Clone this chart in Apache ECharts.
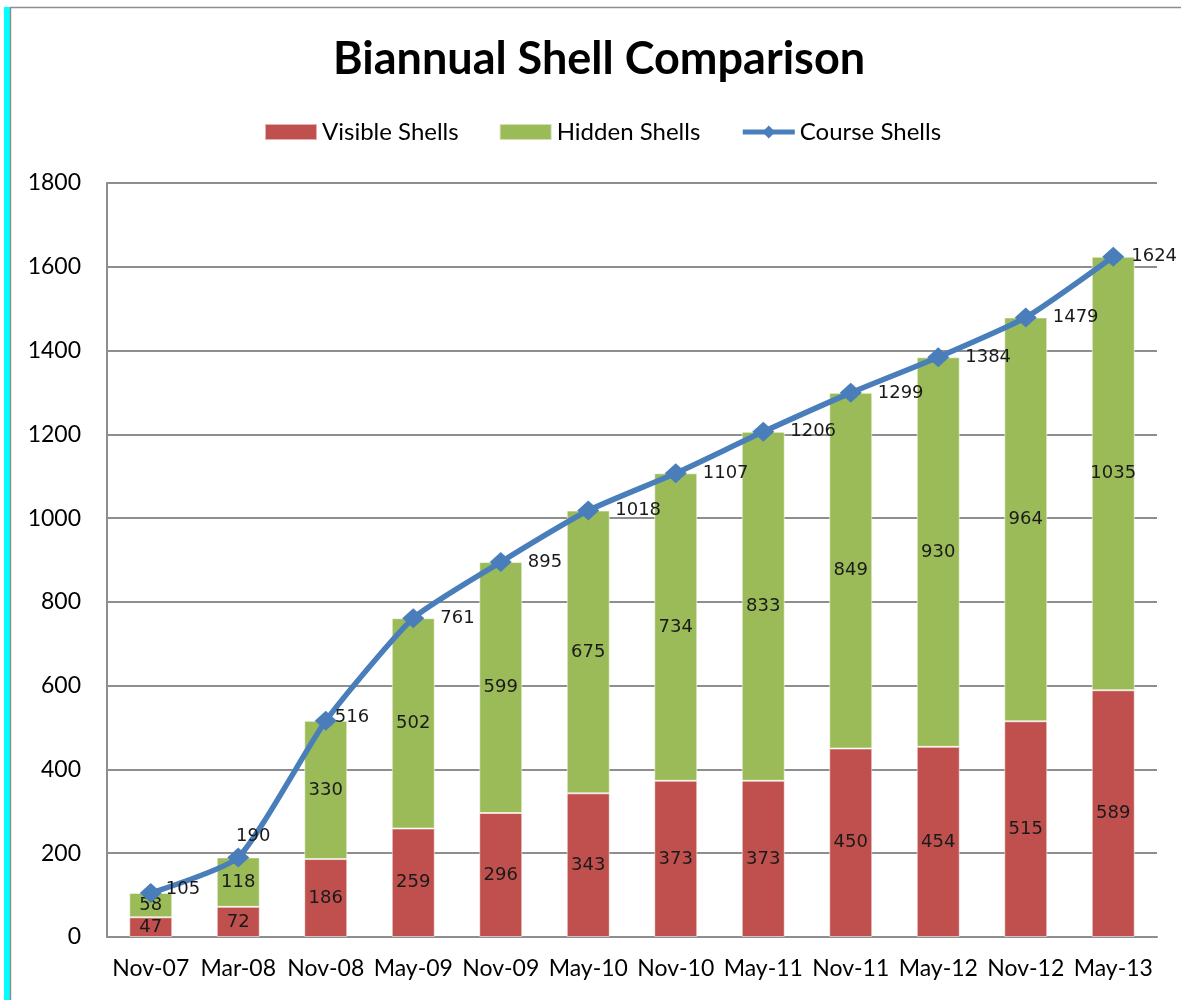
<!DOCTYPE html>
<html>
<head>
<meta charset="utf-8">
<script src="https://cdn.jsdelivr.net/npm/echarts@6/dist/echarts.min.js"></script>
<style>
html,body{margin:0;padding:0;background:#fff;}
#chart{width:1181px;height:1000px;}
</style>
</head>
<body>
<div id="chart"></div>
<script>
var categories = ['Nov-07','Mar-08','Nov-08','May-09','Nov-09','May-10','Nov-10','May-11','Nov-11','May-12','Nov-12','May-13'];
var visibleShells = [47,72,186,259,296,343,373,373,450,454,515,589];
var hiddenShells = [58,118,330,502,599,675,734,833,849,930,964,1035];
var courseShells = [105,190,516,761,895,1018,1107,1206,1299,1384,1479,1624];
var yTicks = {min:0, max:1800, interval:200};

// label placement tweaks for individual line points (by index)
var lineLabelTweaks = {
  0: {distance: 4, offset: [0, -4]},
  1: {position: 'top', distance: 2, offset: [15, 0]},
  2: {distance: -2, offset: [0, -4]},
  11: {distance: 7}
};

var labelFont = {fontFamily: 'DejaVu Sans', fontSize: 18, color: '#1a1a1a'};
var axisFont = 'Lato';
var gridColor = '#8e8e8e';

var chart = echarts.init(document.getElementById('chart'));

var lineData = courseShells.map(function (v, i) {
  var d = {value: v};
  if (lineLabelTweaks[i]) d.label = lineLabelTweaks[i];
  return d;
});

chart.setOption({
  animation: false,
  backgroundColor: '#ffffff',
  title: {
    text: 'Biannual Shell Comparison',
    left: 328,
    top: 32,
    padding: 5,
    textStyle: {fontFamily: axisFont, fontWeight: 'bold', fontSize: 45, color: '#000'}
  },
  legend: {
    top: 115,
    left: 259,
    itemWidth: 52,
    itemHeight: 16,
    itemGap: 40,
    textStyle: {fontFamily: axisFont, fontSize: 24, color: '#000'},
    data: [
      {name: 'Visible Shells', icon: 'rect'},
      {name: 'Hidden Shells', icon: 'rect'},
      {name: 'Course Shells', lineStyle: {width: 5}}
    ]
  },
  grid: {left: 107, right: 24, top: 183, bottom: 63},
  xAxis: {
    type: 'category',
    data: categories,
    axisLine: {show: true, lineStyle: {color: gridColor, width: 2}},
    axisTick: {show: false},
    axisLabel: {fontFamily: axisFont, fontSize: 23, color: '#000', margin: 20, interval: 0}
  },
  yAxis: {
    type: 'value',
    min: yTicks.min,
    max: yTicks.max,
    interval: yTicks.interval,
    axisLine: {show: true, lineStyle: {color: gridColor, width: 2}},
    axisTick: {show: false},
    splitLine: {show: true, lineStyle: {color: gridColor, width: 2}},
    axisLabel: {fontFamily: axisFont, fontSize: 23, color: '#000', margin: 26,
      formatter: function (v) { return String(v); }}
  },
  graphic: [
    {type: 'rect', shape: {x: 4, y: 7, width: 6, height: 993}, style: {fill: '#00ffff'}, silent: true},
    {type: 'line', shape: {x1: 10.5, y1: 7, x2: 10.5, y2: 1000}, style: {stroke: '#8e8e8e', lineWidth: 1.5}, silent: true},
    {type: 'line', shape: {x1: 10, y1: 7.5, x2: 1181, y2: 7.5}, style: {stroke: '#8e8e8e', lineWidth: 1.5}, silent: true}
  ],
  series: [
    {
      name: 'Visible Shells',
      type: 'bar',
      stack: 'shells',
      barWidth: 43,
      data: visibleShells,
      itemStyle: {color: '#C0504D', borderColor: 'rgba(255,255,255,0.55)', borderWidth: 1},
      label: Object.assign({show: true, position: 'inside'}, labelFont)
    },
    {
      name: 'Hidden Shells',
      type: 'bar',
      stack: 'shells',
      barWidth: 43,
      data: hiddenShells,
      itemStyle: {color: '#9BBB59', borderColor: 'rgba(255,255,255,0.55)', borderWidth: 1},
      label: Object.assign({show: true, position: 'inside'}, labelFont)
    },
    {
      name: 'Course Shells',
      type: 'line',
      data: lineData,
      smooth: 0.18,
      symbol: 'diamond',
      symbolSize: [22, 20],
      lineStyle: {color: '#4A7EBB', width: 5.5},
      itemStyle: {color: '#4A7EBB'},
      label: Object.assign({show: true, position: 'right', distance: 16}, labelFont),
      z: 5
    }
  ]
});
</script>
</body>
</html>
